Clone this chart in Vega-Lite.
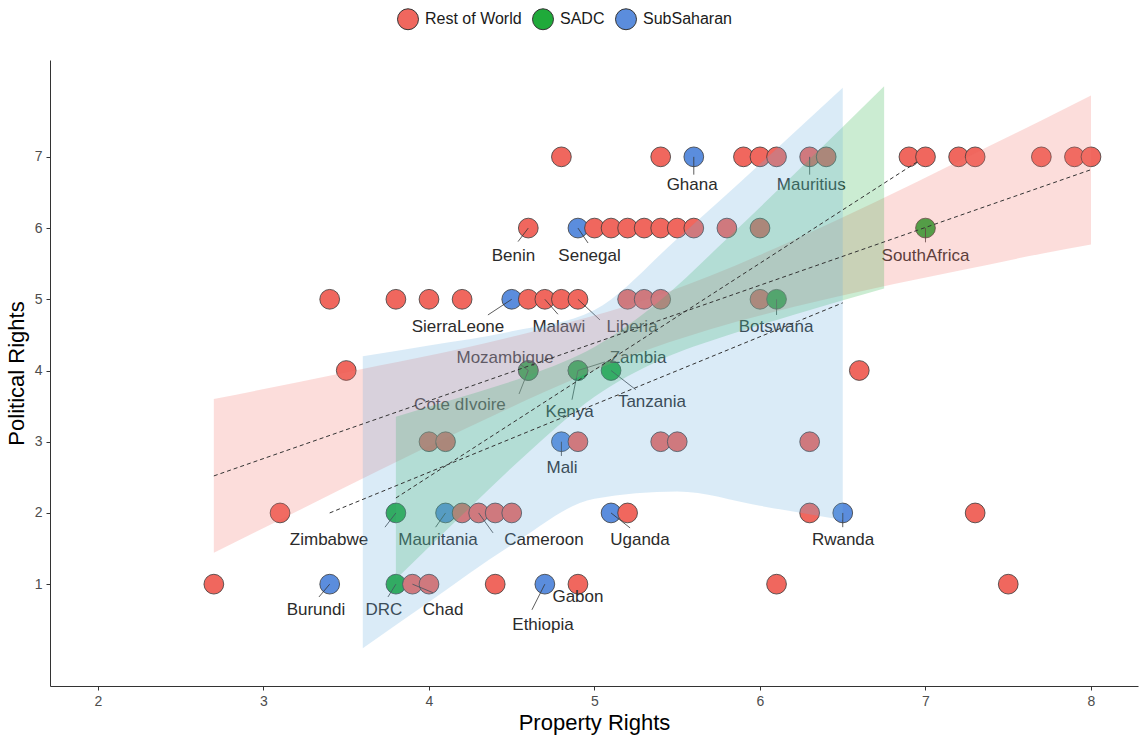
{
  "$schema": "https://vega.github.io/schema/vega-lite/v6.json",
  "width": 1088,
  "height": 626,
  "autosize": {"type": "none"},
  "padding": {"left": 50, "top": 60, "right": 2, "bottom": 56},
  "background": "white",
  "config": {
    "view": {"stroke": null},
    "font": "Liberation Sans",
    "axis": {"grid": false, "domainColor": "#333333", "tickColor": "#333333", "labelColor": "#4D4D4D", "titleColor": "#000000", "labelFont": "Liberation Sans", "titleFont": "Liberation Sans", "titleFontWeight": "normal", "labelFontSize": 14, "titleFontSize": 22, "tickSize": 4, "domainWidth": 1}
  },
  "resolve": {"scale": {"fill": "independent"}, "legend": {"fill": "independent"}},
  "datasets": {
    "pts": [
      {"name": "Cote dIvoire", "group": "SubSaharan", "pr": 4.6, "pol": 4},
      {"name": "Kenya", "group": "SubSaharan", "pr": 4.9, "pol": 4},
      {"name": "", "group": "Rest of World", "pr": 4.8, "pol": 7},
      {"name": "", "group": "Rest of World", "pr": 5.4, "pol": 7},
      {"name": "Ghana", "group": "SubSaharan", "pr": 5.6, "pol": 7},
      {"name": "", "group": "Rest of World", "pr": 5.9, "pol": 7},
      {"name": "", "group": "Rest of World", "pr": 6.0, "pol": 7},
      {"name": "", "group": "Rest of World", "pr": 6.1, "pol": 7},
      {"name": "Mauritius", "group": "Rest of World", "pr": 6.3, "pol": 7},
      {"name": "", "group": "Rest of World", "pr": 6.4, "pol": 7},
      {"name": "", "group": "Rest of World", "pr": 6.9, "pol": 7},
      {"name": "", "group": "Rest of World", "pr": 7.0, "pol": 7},
      {"name": "", "group": "Rest of World", "pr": 7.2, "pol": 7},
      {"name": "", "group": "Rest of World", "pr": 7.3, "pol": 7},
      {"name": "", "group": "Rest of World", "pr": 7.7, "pol": 7},
      {"name": "", "group": "Rest of World", "pr": 7.9, "pol": 7},
      {"name": "", "group": "Rest of World", "pr": 8.0, "pol": 7},
      {"name": "Benin", "group": "Rest of World", "pr": 4.6, "pol": 6},
      {"name": "Senegal", "group": "SubSaharan", "pr": 4.9, "pol": 6},
      {"name": "", "group": "Rest of World", "pr": 5.0, "pol": 6},
      {"name": "", "group": "Rest of World", "pr": 5.1, "pol": 6},
      {"name": "", "group": "Rest of World", "pr": 5.2, "pol": 6},
      {"name": "", "group": "Rest of World", "pr": 5.3, "pol": 6},
      {"name": "", "group": "Rest of World", "pr": 5.4, "pol": 6},
      {"name": "", "group": "Rest of World", "pr": 5.5, "pol": 6},
      {"name": "", "group": "Rest of World", "pr": 5.6, "pol": 6},
      {"name": "", "group": "Rest of World", "pr": 5.8, "pol": 6},
      {"name": "", "group": "Rest of World", "pr": 6.0, "pol": 6},
      {"name": "SouthAfrica", "group": "SADC", "pr": 7.0, "pol": 6},
      {"name": "", "group": "Rest of World", "pr": 3.4, "pol": 5},
      {"name": "", "group": "Rest of World", "pr": 3.8, "pol": 5},
      {"name": "", "group": "Rest of World", "pr": 4.0, "pol": 5},
      {"name": "", "group": "Rest of World", "pr": 4.2, "pol": 5},
      {"name": "SierraLeone", "group": "SubSaharan", "pr": 4.5, "pol": 5},
      {"name": "", "group": "Rest of World", "pr": 4.6, "pol": 5},
      {"name": "Malawi", "group": "Rest of World", "pr": 4.7, "pol": 5},
      {"name": "", "group": "Rest of World", "pr": 4.8, "pol": 5},
      {"name": "Liberia", "group": "Rest of World", "pr": 4.9, "pol": 5},
      {"name": "", "group": "Rest of World", "pr": 5.2, "pol": 5},
      {"name": "", "group": "Rest of World", "pr": 5.3, "pol": 5},
      {"name": "", "group": "Rest of World", "pr": 5.4, "pol": 5},
      {"name": "", "group": "Rest of World", "pr": 6.0, "pol": 5},
      {"name": "Botswana", "group": "SADC", "pr": 6.1, "pol": 5},
      {"name": "", "group": "Rest of World", "pr": 3.5, "pol": 4},
      {"name": "Mozambique", "group": "SADC", "pr": 4.6, "pol": 4},
      {"name": "Zambia", "group": "SADC", "pr": 4.9, "pol": 4},
      {"name": "Tanzania", "group": "SADC", "pr": 5.1, "pol": 4},
      {"name": "", "group": "Rest of World", "pr": 6.6, "pol": 4},
      {"name": "", "group": "Rest of World", "pr": 4.0, "pol": 3},
      {"name": "", "group": "Rest of World", "pr": 4.1, "pol": 3},
      {"name": "Mali", "group": "SubSaharan", "pr": 4.8, "pol": 3},
      {"name": "", "group": "Rest of World", "pr": 4.9, "pol": 3},
      {"name": "", "group": "Rest of World", "pr": 5.4, "pol": 3},
      {"name": "", "group": "Rest of World", "pr": 5.5, "pol": 3},
      {"name": "", "group": "Rest of World", "pr": 6.3, "pol": 3},
      {"name": "", "group": "Rest of World", "pr": 3.1, "pol": 2},
      {"name": "Zimbabwe", "group": "SADC", "pr": 3.8, "pol": 2},
      {"name": "Mauritania", "group": "SubSaharan", "pr": 4.1, "pol": 2},
      {"name": "", "group": "Rest of World", "pr": 4.2, "pol": 2},
      {"name": "Cameroon", "group": "Rest of World", "pr": 4.3, "pol": 2},
      {"name": "", "group": "Rest of World", "pr": 4.4, "pol": 2},
      {"name": "", "group": "Rest of World", "pr": 4.5, "pol": 2},
      {"name": "Uganda", "group": "SubSaharan", "pr": 5.1, "pol": 2},
      {"name": "", "group": "Rest of World", "pr": 5.2, "pol": 2},
      {"name": "", "group": "Rest of World", "pr": 6.3, "pol": 2},
      {"name": "Rwanda", "group": "SubSaharan", "pr": 6.5, "pol": 2},
      {"name": "", "group": "Rest of World", "pr": 7.3, "pol": 2},
      {"name": "", "group": "Rest of World", "pr": 2.7, "pol": 1},
      {"name": "Burundi", "group": "SubSaharan", "pr": 3.4, "pol": 1},
      {"name": "DRC", "group": "SADC", "pr": 3.8, "pol": 1},
      {"name": "Chad", "group": "Rest of World", "pr": 3.9, "pol": 1},
      {"name": "", "group": "Rest of World", "pr": 4.0, "pol": 1},
      {"name": "", "group": "Rest of World", "pr": 4.4, "pol": 1},
      {"name": "Ethiopia", "group": "SubSaharan", "pr": 4.7, "pol": 1},
      {"name": "Gabon", "group": "Rest of World", "pr": 4.9, "pol": 1},
      {"name": "", "group": "Rest of World", "pr": 6.1, "pol": 1},
      {"name": "", "group": "Rest of World", "pr": 7.5, "pol": 1}
    ],
    "labs": [
      {"name": "Ghana", "pr": 5.6, "pol": 7, "sx": 5.6, "sy": 6.75, "lx": 5.59, "ly": 6.61},
      {"name": "Mauritius", "pr": 6.3, "pol": 7, "sx": 6.3, "sy": 6.75, "lx": 6.31, "ly": 6.61},
      {"name": "Benin", "pr": 4.6, "pol": 6, "sx": 4.538, "sy": 5.81, "lx": 4.51, "ly": 5.61},
      {"name": "Senegal", "pr": 4.9, "pol": 6, "sx": 4.961, "sy": 5.79, "lx": 4.97, "ly": 5.61},
      {"name": "SouthAfrica", "pr": 7.0, "pol": 6, "sx": 7.0, "sy": 5.8, "lx": 7.0, "ly": 5.61},
      {"name": "SierraLeone", "pr": 4.5, "pol": 5, "sx": 4.356, "sy": 4.78, "lx": 4.175, "ly": 4.61},
      {"name": "Malawi", "pr": 4.7, "pol": 5, "sx": 4.779, "sy": 4.79, "lx": 4.785, "ly": 4.61},
      {"name": "Liberia", "pr": 4.9, "pol": 5, "sx": 5.033, "sy": 4.71, "lx": 5.227, "ly": 4.61},
      {"name": "Botswana", "pr": 6.1, "pol": 5, "sx": 6.1, "sy": 4.78, "lx": 6.097, "ly": 4.61},
      {"name": "Mozambique", "pr": 4.6, "pol": 4, "sx": 4.55, "sy": 4.09, "lx": 4.46, "ly": 4.18},
      {"name": "Zambia", "pr": 4.9, "pol": 4, "sx": 5.063, "sy": 4.12, "lx": 5.263, "ly": 4.18},
      {"name": "Cote dIvoire", "pr": 4.6, "pol": 4, "sx": 4.544, "sy": 3.67, "lx": 4.187, "ly": 3.52},
      {"name": "Kenya", "pr": 4.9, "pol": 4, "sx": 4.864, "sy": 3.59, "lx": 4.85, "ly": 3.42},
      {"name": "Tanzania", "pr": 5.1, "pol": 4, "sx": 5.25, "sy": 3.73, "lx": 5.347, "ly": 3.56},
      {"name": "Mali", "pr": 4.8, "pol": 3, "sx": 4.8, "sy": 2.8, "lx": 4.804, "ly": 2.63},
      {"name": "Zimbabwe", "pr": 3.8, "pol": 2, "sx": 3.734, "sy": 1.8, "lx": 3.396, "ly": 1.62},
      {"name": "Mauritania", "pr": 4.1, "pol": 2, "sx": 4.04, "sy": 1.8, "lx": 4.054, "ly": 1.62},
      {"name": "Cameroon", "pr": 4.3, "pol": 2, "sx": 4.387, "sy": 1.72, "lx": 4.695, "ly": 1.62},
      {"name": "Uganda", "pr": 5.1, "pol": 2, "sx": 5.215, "sy": 1.79, "lx": 5.275, "ly": 1.62},
      {"name": "Rwanda", "pr": 6.5, "pol": 2, "sx": 6.5, "sy": 1.8, "lx": 6.502, "ly": 1.62},
      {"name": "Burundi", "pr": 3.4, "pol": 1, "sx": 3.335, "sy": 0.82, "lx": 3.317, "ly": 0.64},
      {"name": "DRC", "pr": 3.8, "pol": 1, "sx": 3.752, "sy": 0.82, "lx": 3.728, "ly": 0.64},
      {"name": "Chad", "pr": 3.9, "pol": 1, "sx": 4.024, "sy": 0.88, "lx": 4.085, "ly": 0.64},
      {"name": "Ethiopia", "pr": 4.7, "pol": 1, "sx": 4.622, "sy": 0.64, "lx": 4.689, "ly": 0.43},
      {"name": "Gabon", "pr": 4.9, "pol": 1, "sx": 4.9, "sy": 1.0, "lx": 4.9, "ly": 0.82}
    ],
    "bands": [
      {"group": "Rest of World", "pr": 2.7, "lo": 1.44, "hi": 3.60},
      {"group": "Rest of World", "pr": 3.2, "lo": 2.02, "hi": 3.83},
      {"group": "Rest of World", "pr": 3.7, "lo": 2.60, "hi": 4.07},
      {"group": "Rest of World", "pr": 4.2, "lo": 3.16, "hi": 4.31},
      {"group": "Rest of World", "pr": 4.7, "lo": 3.70, "hi": 4.59},
      {"group": "Rest of World", "pr": 5.2, "lo": 4.19, "hi": 4.91},
      {"group": "Rest of World", "pr": 5.7, "lo": 4.58, "hi": 5.33},
      {"group": "Rest of World", "pr": 6.2, "lo": 4.89, "hi": 5.83},
      {"group": "Rest of World", "pr": 6.7, "lo": 5.16, "hi": 6.37},
      {"group": "Rest of World", "pr": 7.2, "lo": 5.40, "hi": 6.94},
      {"group": "Rest of World", "pr": 7.7, "lo": 5.64, "hi": 7.51},
      {"group": "Rest of World", "pr": 8.0, "lo": 5.77, "hi": 7.86},
      {"group": "SADC", "pr": 3.8, "lo": 1.07, "hi": 3.35},
      {"group": "SADC", "pr": 4.2, "lo": 1.97, "hi": 3.63},
      {"group": "SADC", "pr": 4.6, "lo": 2.85, "hi": 3.93},
      {"group": "SADC", "pr": 5.0, "lo": 3.63, "hi": 4.33},
      {"group": "SADC", "pr": 5.4, "lo": 4.15, "hi": 4.99},
      {"group": "SADC", "pr": 5.8, "lo": 4.49, "hi": 5.85},
      {"group": "SADC", "pr": 6.2, "lo": 4.78, "hi": 6.74},
      {"group": "SADC", "pr": 6.75, "lo": 5.15, "hi": 7.99},
      {"group": "SubSaharan", "pr": 3.6, "lo": 0.1, "hi": 4.2},
      {"group": "SubSaharan", "pr": 4.0, "lo": 0.75, "hi": 4.35},
      {"group": "SubSaharan", "pr": 4.5, "lo": 1.55, "hi": 4.55},
      {"group": "SubSaharan", "pr": 5.0, "lo": 2.2, "hi": 4.85},
      {"group": "SubSaharan", "pr": 5.5, "lo": 2.3, "hi": 5.85},
      {"group": "SubSaharan", "pr": 6.0, "lo": 2.1, "hi": 6.9},
      {"group": "SubSaharan", "pr": 6.5, "lo": 1.9, "hi": 7.97}
    ],
    "fits": [
      {"group": "Rest of World", "pr": 2.7, "fit": 2.52},
      {"group": "Rest of World", "pr": 8.0, "fit": 6.82},
      {"group": "SADC", "pr": 3.8, "fit": 2.21},
      {"group": "SADC", "pr": 6.95, "fit": 6.93},
      {"group": "SubSaharan", "pr": 3.4, "fit": 2.0},
      {"group": "SubSaharan", "pr": 6.5, "fit": 4.95}
    ]
  },
  "layer": [
    {
      "data": {"name": "pts"},
      "mark": {"type": "point", "shape": "circle", "filled": true, "size": 390, "stroke": "#3A3A3A", "strokeWidth": 0.8, "opacity": 1},
      "encoding": {
        "x": {"field": "pr", "type": "quantitative", "scale": {"domain": [1.71, 8.284], "nice": false, "zero": false}, "axis": {"values": [2, 3, 4, 5, 6, 7, 8], "format": "d", "title": "Property Rights", "labelPadding": 4, "titlePadding": 4}},
        "y": {"field": "pol", "type": "quantitative", "scale": {"domain": [-0.43, 8.36], "nice": false, "zero": false}, "axis": {"values": [1, 2, 3, 4, 5, 6, 7], "format": "d", "title": "Political Rights", "labelPadding": 4, "titlePadding": 6}},
        "fill": {"field": "group", "type": "nominal", "scale": {"domain": ["Rest of World", "SADC", "SubSaharan"], "range": ["#F0675E", "#1FAA3A", "#5B8DDD"]},
          "legend": {"title": null, "orient": "none", "legendX": 347, "legendY": -52, "direction": "horizontal", "symbolType": "circle", "symbolSize": 440, "symbolStrokeColor": "#333333", "symbolStrokeWidth": 1, "symbolOpacity": 1, "labelFontSize": 16, "labelColor": "#1A1A1A", "labelFont": "Liberation Sans", "columnPadding": 8, "labelOffset": 6}}
      }
    },
    {
      "data": {"name": "labs"},
      "mark": {"type": "rule", "stroke": "#333333", "strokeWidth": 0.8},
      "encoding": {
        "x": {"field": "pr", "type": "quantitative"},
        "y": {"field": "pol", "type": "quantitative"},
        "x2": {"field": "sx"},
        "y2": {"field": "sy"}
      }
    },
    {
      "data": {"name": "labs"},
      "mark": {"type": "text", "fontSize": 17, "font": "Liberation Sans", "color": "#2B2B2B", "align": "center", "baseline": "middle"},
      "encoding": {
        "x": {"field": "lx", "type": "quantitative"},
        "y": {"field": "ly", "type": "quantitative"},
        "text": {"field": "name"}
      }
    },
    {
      "data": {"name": "bands"},
      "mark": {"type": "area", "opacity": 0.25, "interpolate": "monotone"},
      "encoding": {
        "x": {"field": "pr", "type": "quantitative"},
        "y": {"field": "lo", "type": "quantitative"},
        "y2": {"field": "hi"},
        "fill": {"field": "group", "type": "nominal", "scale": {"domain": ["Rest of World", "SADC", "SubSaharan"], "range": ["#F5776E", "#30B24A", "#6BAEE0"]}, "legend": null}
      }
    },
    {
      "data": {"name": "fits"},
      "mark": {"type": "line", "stroke": "#333333", "strokeWidth": 1, "strokeDash": [4, 3]},
      "encoding": {
        "x": {"field": "pr", "type": "quantitative"},
        "y": {"field": "fit", "type": "quantitative"},
        "detail": {"field": "group", "type": "nominal"}
      }
    }
  ]
}
